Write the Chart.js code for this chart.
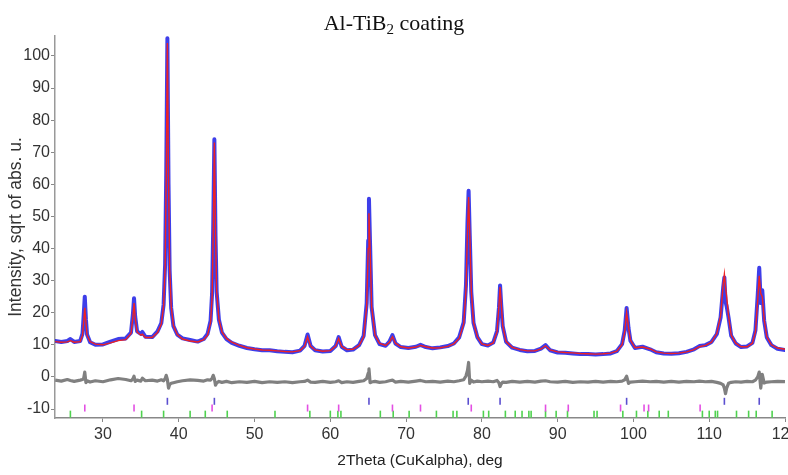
<!DOCTYPE html>
<html>
<head>
<meta charset="utf-8">
<script src="https://cdn.jsdelivr.net/npm/chart.js@4"></script>
<style>
  body { margin: 0; background: #fff; overflow: hidden; }
  #wrap { position: relative; width: 788px; height: 475px; overflow: hidden; }
  #title { position: absolute; top: 10px; left: 0; width: 788px; text-align: center;
           font: 22px 'Liberation Serif', 'Times New Roman', serif; line-height: 26px; color: #111; }
  #title sub { font-size: 15px; vertical-align: -4px; line-height: 0; }
</style>
</head>
<body>
<div id="wrap">
  <canvas id="xrd" width="800" height="475"></canvas>
  <div id="title">Al-TiB<sub>2</sub> coating</div>
</div>
<script>
// 2theta positions of the profile (deg)
const profileX = [23.7, 24.5, 25.3, 25.7, 26.2, 27.0, 27.3, 27.45, 27.6, 27.75, 27.9, 28.3, 29.0, 30.0,
  31.0, 32.0, 33.0, 33.7, 33.95, 34.1, 34.25, 34.5, 35.0, 35.2, 35.6, 36.5, 37.2, 37.7, 38.0, 38.2,
  38.35, 38.5, 38.65, 38.8, 39.0, 39.3, 39.8, 40.5, 41.5, 42.5, 43.3, 43.8, 44.2, 44.4, 44.55, 44.7,
  44.85, 45.0, 45.3, 45.7, 46.3, 47.0, 48.0, 49.0, 50.0, 51.0, 52.0, 53.0, 54.0, 55.0, 56.0, 56.6,
  57.0, 57.4, 58.0, 59.0, 60.0, 60.7, 61.1, 61.5, 62.2, 63.0, 63.8, 64.4, 64.8, 65.0, 65.1, 65.25,
  65.45, 65.9, 66.5, 67.3, 67.8, 68.2, 68.6, 69.3, 70.3, 71.3, 71.9, 72.6, 73.5, 74.5, 75.5, 76.3,
  77.0, 77.6, 77.9, 78.1, 78.25, 78.4, 78.6, 78.9, 79.4, 80.0, 80.8, 81.5, 82.0, 82.25, 82.4, 82.55,
  82.75, 83.2, 84.0, 85.0, 86.0, 87.0, 87.8, 88.4, 89.0, 90.0, 91.0, 92.0, 93.0, 94.0, 95.0, 96.0,
  97.0, 97.8, 98.5, 98.85, 99.1, 99.35, 99.6, 100.2, 101.2, 102.2, 103.0, 104.0, 105.0, 106.0, 107.0,
  108.0, 108.7, 109.5, 110.3, 111.0, 111.5, 111.85, 112.0, 112.15, 112.3, 112.55, 112.9, 113.5, 114.2,
  115.0, 115.7, 116.1, 116.4, 116.6, 116.8, 117.0, 117.25, 117.6, 118.2, 119.0, 120.0];

// calculated profile (red)
const calcY = [11.0, 10.8, 10.9, 11.3, 10.8, 11.0, 13.0, 17.0, 21.5, 17.0, 13.0, 11.0, 10.2, 10.0,
  10.6, 11.3, 11.6, 13.5, 18.5, 23.0, 18.5, 14.0, 13.0, 13.3, 12.3, 12.3, 13.8, 16.5, 22.0, 34.0,
  62.0, 104.0, 62.0, 34.0, 22.0, 16.0, 13.2, 11.8, 11.2, 10.9, 11.6, 13.0, 17.0, 25.0, 45.0, 73.0,
  45.0, 27.0, 18.0, 14.0, 12.0, 10.8, 9.8, 9.1, 8.7, 8.4, 8.3, 8.1, 7.9, 7.8, 8.2, 9.5,
  12.5, 9.5, 8.4, 8.0, 8.2, 9.5, 12.0, 9.5, 8.5, 8.6, 9.8, 12.5, 22.0, 40.0, 51.0, 40.0,
  22.0, 13.0, 10.4, 9.8, 10.8, 12.5, 10.5, 9.4, 9.0, 9.3, 9.8, 9.4, 9.0, 9.1, 9.5, 10.3,
  12.0, 16.5, 27.0, 45.0, 56.0, 45.0, 27.0, 17.0, 12.5, 10.3, 9.8, 10.6, 14.0, 22.0, 28.0, 23.0,
  16.0, 11.0, 9.2, 8.5, 8.1, 8.1, 8.7, 9.7, 8.4, 7.8, 7.6, 7.5, 7.3, 7.2, 7.1, 7.2,
  7.4, 8.0, 10.0, 14.0, 20.0, 15.5, 11.5, 9.1, 9.3, 8.7, 7.8, 7.4, 7.3, 7.4, 7.8,
  8.5, 9.4, 9.8, 10.8, 13.5, 19.0, 29.0, 32.0, 28.0, 25.0, 19.0, 13.0, 10.5, 9.4,
  9.4, 10.5, 14.0, 24.0, 31.5, 26.0, 25.0, 18.0, 12.5, 10.0, 9.0, 8.6];

// observed profile (blue)
const obsY = [11.2, 10.9, 11.2, 11.8, 10.9, 11.2, 13.5, 19.0, 25.0, 18.0, 13.2, 10.8, 10.0, 10.1,
  11.0, 11.8, 12.0, 13.8, 19.5, 24.5, 18.8, 14.2, 13.4, 14.0, 12.5, 12.4, 14.2, 16.8, 22.5, 35.0,
  63.5, 105.5, 60.0, 33.0, 21.5, 15.8, 13.2, 12.0, 11.5, 11.0, 11.8, 13.4, 17.5, 26.0, 47.0, 74.0,
  44.0, 26.5, 17.8, 13.8, 11.8, 10.6, 9.7, 9.0, 8.6, 8.3, 8.3, 8.0, 7.8, 7.7, 8.2, 9.7,
  13.2, 9.6, 8.3, 7.9, 8.1, 9.6, 12.4, 9.4, 8.3, 8.5, 9.9, 12.8, 23.0, 42.5, 55.5, 41.0,
  21.8, 13.0, 10.2, 9.7, 11.0, 13.0, 10.4, 9.3, 9.0, 9.4, 10.0, 9.3, 8.9, 9.2, 9.6, 10.4,
  12.3, 17.0, 28.5, 48.0, 58.0, 44.0, 26.5, 16.8, 12.4, 10.2, 9.8, 10.7, 14.3, 21.5, 28.5, 22.5,
  15.8, 10.9, 9.1, 8.4, 8.0, 8.1, 8.8, 9.9, 8.3, 7.6, 7.5, 7.3, 7.1, 7.1, 7.0, 7.1,
  7.3, 8.0, 10.2, 14.5, 21.5, 15.2, 11.3, 9.0, 9.4, 8.6, 7.7, 7.3, 7.2, 7.4, 7.8,
  8.6, 9.6, 9.9, 10.9, 13.3, 18.5, 28.0, 31.0, 23.5, 22.0, 18.5, 12.8, 10.4, 9.3,
  9.5, 10.6, 14.5, 25.5, 34.0, 23.0, 27.0, 17.5, 12.3, 9.9, 8.8, 8.4];

// difference obs - calc (grey), plotted with its offset
const diffY = [-1.0, -1.3, -0.8, -1.1, -1.4, -1.0, -0.8, -0.5, 1.5, -1.8, -1.2, -1.6, -1.2, -1.5,
  -0.9, -0.5, -0.8, -1.2, -0.6, 0.2, -1.4, -1.0, -1.3, -0.4, -1.2, -1.0, -1.3, -0.9, -1.2, -0.6,
  0.5, -0.8, -3.5, -2.4, -2.0, -1.8, -1.5, -1.2, -0.9, -1.1, -1.3, -0.9, -1.0, -0.4, 0.5, -0.6,
  -2.6, -1.9, -1.4, -1.7, -1.4, -1.8, -1.5, -1.7, -1.4, -1.8, -1.5, -1.7, -1.5, -1.8, -1.5, -1.4,
  -1.0, -1.6, -1.7, -1.4, -1.7, -1.5, -1.2, -1.8, -1.5, -1.7, -1.4, -1.2, -0.5, 1.2, 2.5, -1.8,
  -1.6, -1.4, -1.7, -1.5, -1.2, -1.0, -1.6, -1.4, -1.6, -1.3, -1.1, -1.5, -1.4, -1.6, -1.3, -1.5,
  -1.2, -0.9, 0.3, 2.0, 4.5, -2.0, -1.0, -1.6, -1.3, -1.5, -1.3, -1.5, -1.1, -1.8, -3.0, -2.2,
  -1.6, -1.7, -1.4, -1.6, -1.4, -1.6, -1.3, -1.2, -1.5, -1.6, -1.4, -1.7, -1.5, -1.6, -1.4, -1.6,
  -1.4, -1.5, -1.3, -0.9, 0.2, -2.0, -1.6, -1.5, -1.3, -1.5, -1.4, -1.6, -1.4, -1.6, -1.4,
  -1.5, -1.3, -1.5, -1.4, -1.7, -2.0, -2.5, -3.5, -5.2, -3.5, -2.0, -1.7, -1.5, -1.6,
  -1.4, -1.5, -1.0, 0.0, 1.5, -3.5, 0.8, -1.9, -1.6, -1.5, -1.4, -1.5];

// reflection markers (deg)
const alTicks = [38.5, 44.7, 65.1, 78.2, 82.4, 99.1, 112.0, 116.6];
const tib2Ticks = [27.6, 34.1, 44.4, 57.0, 61.1, 68.2, 71.9, 78.6, 88.4, 91.4, 98.3, 101.4, 102.0, 108.8];
const thirdTicks = [25.7, 35.1, 38.0, 41.5, 43.5, 46.4, 52.7, 57.3, 60.0, 61.0, 61.4, 66.6, 68.3, 70.4,
  74.0, 76.2, 76.7, 80.2, 80.9, 83.1, 84.4, 85.3, 86.2, 86.5, 88.4, 89.8, 91.3, 94.8, 95.2, 98.6,
  100.4, 101.9, 103.4, 104.6, 109.1, 110.0, 110.8, 111.1, 113.6, 115.2, 116.2, 118.3];

const xTickValues = [30, 40, 50, 60, 70, 80, 90, 100, 110, 120];
const yTickValues = [-10, 0, 10, 20, 30, 40, 50, 60, 70, 80, 90, 100];

const pts = ys => profileX.map((x, i) => ({ x: x, y: ys[i] }));
const marks = (xs, level) => xs.map(x => ({ x: x, y: level }));

const sans = "'Liberation Sans', Arial, sans-serif";

const markerSet = (xs, level, color) => ({
  data: marks(xs, level),
  showLine: false,
  pointStyle: 'line',
  rotation: 90,
  pointRadius: 3.5,
  pointBorderWidth: 1.6,
  borderColor: color,
  backgroundColor: color,
  order: 3
});

// canvas is a bit wider than the window so the last x label gets cut like in the original
new Chart(document.getElementById('xrd'), {
  type: 'scatter',
  data: {
    datasets: [
      { data: pts(calcY), showLine: true, borderColor: '#ee2222', borderWidth: 1.4, pointRadius: 0, order: 0 },
      { data: pts(obsY), showLine: true, borderColor: 'rgba(35,35,230,0.88)', borderWidth: 4,
        borderJoinStyle: 'round', borderCapStyle: 'round', pointRadius: 0, order: 1 },
      { data: pts(diffY), showLine: true, borderColor: '#808080', borderWidth: 3.2,
        borderJoinStyle: 'round', pointRadius: 0, order: 2 },
      markerSet(alTicks, -7.6, '#5b4fd0'),
      markerSet(tib2Ticks, -9.7, '#e34fe3'),
      markerSet(thirdTicks, -11.6, '#4fd24f')
    ]
  },
  options: {
    responsive: false,
    animation: false,
    layout: { padding: { top: 36, right: 15, left: 0, bottom: 0 } },
    plugins: { legend: { display: false }, tooltip: { enabled: false } },
    scales: {
      x: {
        type: 'linear',
        min: 23.67,
        max: 120,
        afterBuildTicks: s => { s.ticks = xTickValues.map(v => ({ value: v })); },
        afterFit: s => { s.height = 57; s.paddingLeft = 0; s.paddingRight = 0; },
        grid: { drawOnChartArea: false, tickLength: 4, color: '#888' },
        border: { color: '#888', width: 1.5 },
        ticks: { font: { family: sans, size: 16 }, color: '#333', padding: 3, maxRotation: 0, autoSkip: false },
        title: { display: true, text: '2Theta (CuKalpha), deg', font: { family: sans, size: 15.5 }, color: '#222', padding: { top: 0, bottom: 5 } }
      },
      y: {
        min: -12.8,
        max: 106.2,
        afterBuildTicks: s => { s.ticks = yTickValues.map(v => ({ value: v })); },
        afterFit: s => { s.width = 55; s.paddingTop = 0; s.paddingBottom = 0; },
        grid: { drawOnChartArea: false, tickLength: 4, color: '#888' },
        border: { color: '#999', width: 1.5 },
        ticks: { font: { family: sans, size: 16 }, color: '#333', padding: 1, autoSkip: false },
        title: { display: true, text: 'Intensity, sqrt of abs. u.', font: { family: sans, size: 17.5 }, color: '#333', padding: { top: 6, bottom: 0 } }
      }
    }
  }
});
</script>
</body>
</html>
